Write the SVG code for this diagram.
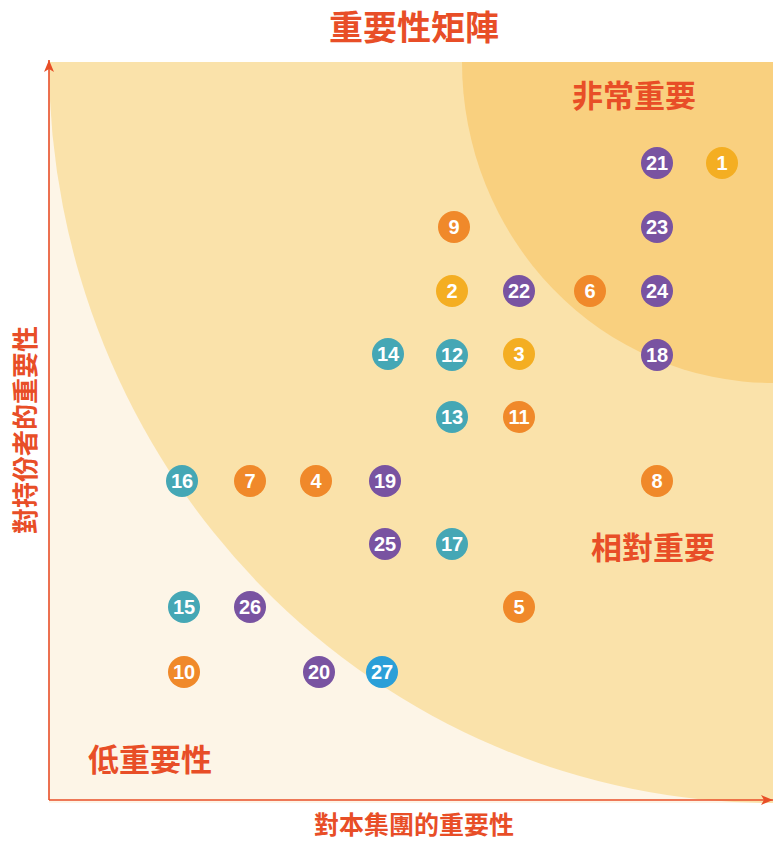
<svg xmlns="http://www.w3.org/2000/svg" width="773" height="842" viewBox="0 0 773 842">
<style>
.lbl{font-family:"Noto Sans CJK TC","Noto Sans CJK SC",sans-serif;font-weight:700;fill:#E84E27;text-anchor:middle}
.n circle{stroke:none}
.n text{font-family:"Liberation Sans",Arial,sans-serif;font-weight:700;font-size:20px;fill:#fff;text-anchor:middle;dominant-baseline:central}
.o{fill:#F0892A}.y{fill:#F4AE22}.p{fill:#7953A1}.t{fill:#45A7B5}.b{fill:#2A9FD8}
</style>
<defs>
<clipPath id="plot"><rect x="49" y="62" width="724" height="741"/></clipPath>
<marker id="arr" viewBox="0 0 12 10" refX="12" refY="5" markerWidth="12" markerHeight="10" orient="auto" markerUnits="userSpaceOnUse">
<path d="M0,0 L12,5 L0,10 L3,5 Z" fill="#E84E27"/>
</marker>
</defs>
<g id="background" clip-path="url(#plot)">
<rect x="49" y="62" width="724" height="741" fill="#FDF5E7"/>
<ellipse cx="773" cy="62" rx="724" ry="741" fill="#FAE2AA"/>
<ellipse cx="773" cy="62" rx="311" ry="321" fill="#F9D07F"/>
</g>
<g id="connectors" fill="none" stroke="#E84E27" stroke-width="1.6">
<line x1="49" y1="800" x2="49" y2="60" marker-end="url(#arr)"/>
<line x1="49" y1="800" x2="773" y2="800" marker-end="url(#arr)"/>
</g>
<text id="title" class="lbl" x="414" y="40" font-size="34">重要性矩陣</text>
<text id="zone-high" class="lbl" x="634" y="107" font-size="31">非常重要</text>
<text id="zone-mid" class="lbl" x="653" y="559" font-size="31">相對重要</text>
<text id="zone-low" class="lbl" x="150" y="771" font-size="31">低重要性</text>
<text id="x-label" class="lbl" x="414" y="834" font-size="25">對本集團的重要性</text>
<text id="y-label" class="lbl" font-size="26" transform="translate(35,430) rotate(-90)">對持份者的重要性</text>
<g class="n">
<g id="n21"><circle class="p" cx="657" cy="163" r="16"/><text x="657" y="163">21</text></g>
<g id="n1"><circle class="y" cx="722" cy="163" r="16"/><text x="722" y="163">1</text></g>
<g id="n9"><circle class="o" cx="454" cy="227" r="16"/><text x="454" y="227">9</text></g>
<g id="n23"><circle class="p" cx="657" cy="227" r="16"/><text x="657" y="227">23</text></g>
<g id="n2"><circle class="y" cx="452" cy="291" r="16"/><text x="452" y="291">2</text></g>
<g id="n22"><circle class="p" cx="519" cy="291" r="16"/><text x="519" y="291">22</text></g>
<g id="n6"><circle class="o" cx="590" cy="291" r="16"/><text x="590" y="291">6</text></g>
<g id="n24"><circle class="p" cx="657" cy="291" r="16"/><text x="657" y="291">24</text></g>
<g id="n14"><circle class="t" cx="388" cy="354" r="16"/><text x="388" y="354">14</text></g>
<g id="n12"><circle class="t" cx="452" cy="355" r="16"/><text x="452" y="355">12</text></g>
<g id="n3"><circle class="y" cx="519" cy="354" r="16"/><text x="519" y="354">3</text></g>
<g id="n18"><circle class="p" cx="657" cy="355" r="16"/><text x="657" y="355">18</text></g>
<g id="n13"><circle class="t" cx="452" cy="417" r="16"/><text x="452" y="417">13</text></g>
<g id="n11"><circle class="o" cx="519" cy="417" r="16"/><text x="519" y="417">11</text></g>
<g id="n16"><circle class="t" cx="182" cy="481" r="16"/><text x="182" y="481">16</text></g>
<g id="n7"><circle class="o" cx="250" cy="481" r="16"/><text x="250" y="481">7</text></g>
<g id="n4"><circle class="o" cx="316" cy="481" r="16"/><text x="316" y="481">4</text></g>
<g id="n19"><circle class="p" cx="385" cy="481" r="16"/><text x="385" y="481">19</text></g>
<g id="n8"><circle class="o" cx="657" cy="481" r="16"/><text x="657" y="481">8</text></g>
<g id="n25"><circle class="p" cx="385" cy="544" r="16"/><text x="385" y="544">25</text></g>
<g id="n17"><circle class="t" cx="452" cy="544" r="16"/><text x="452" y="544">17</text></g>
<g id="n15"><circle class="t" cx="184" cy="607" r="16"/><text x="184" y="607">15</text></g>
<g id="n26"><circle class="p" cx="250" cy="607" r="16"/><text x="250" y="607">26</text></g>
<g id="n5"><circle class="o" cx="519" cy="607" r="16"/><text x="519" y="607">5</text></g>
<g id="n10"><circle class="o" cx="184" cy="672" r="16"/><text x="184" y="672">10</text></g>
<g id="n20"><circle class="p" cx="319" cy="672" r="16"/><text x="319" y="672">20</text></g>
<g id="n27"><circle class="b" cx="382" cy="672" r="16"/><text x="382" y="672">27</text></g>
</g>
</svg>
